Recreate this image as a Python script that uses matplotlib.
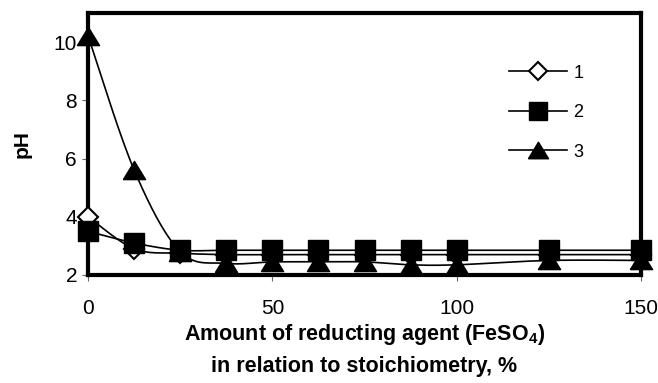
import numpy as np
import matplotlib
matplotlib.use("Agg")
from matplotlib import pyplot as plt
from matplotlib.lines import Line2D

# Data
amount = [0, 12.5, 25, 37.5, 50, 62.5, 75, 87.5, 100, 125, 150]
ph_1 = [4.0, 2.9, 2.75, 2.7, 2.7, 2.7, 2.7, 2.7, 2.7, 2.7, 2.7]
ph_2 = [3.5, 3.1, 2.85, 2.85, 2.85, 2.85, 2.85, 2.85, 2.85, 2.85, 2.85]
ph_3 = [10.2, 5.6, 2.8, 2.4, 2.45, 2.45, 2.45, 2.35, 2.35, 2.5, 2.5]
series_labels = ["1", "2", "3"]

plt.rcParams['font.family'] = ['Liberation Sans', 'DejaVu Sans']

# wide triangle, like the Excel marker
TRI = [(-1.0, -0.82), (1.0, -0.82), (0.0, 0.82), (-1.0, -0.82)]


def smooth(x, y, n=30):
	# Excel-like smoothed line (cubic Bezier, Catmull-Rom control points)
	pts = np.column_stack([np.asarray(x, float), np.asarray(y, float)])
	out = [pts[0]]
	for i in range(len(pts) - 1):
		p0 = pts[i - 1] if i > 0 else pts[i]
		p1 = pts[i]
		p2 = pts[i + 1]
		p3 = pts[i + 2] if i + 2 < len(pts) else pts[i + 1]
		c1 = p1 + (p2 - p0) / 6
		c2 = p2 - (p3 - p1) / 6
		t = np.linspace(0, 1, n)[1:, None]
		seg = (1 - t) ** 3 * p1 + 3 * (1 - t) ** 2 * t * c1 + 3 * (1 - t) * t ** 2 * c2 + t ** 3 * p2
		out.extend(seg)
	out = np.array(out)
	return out[:, 0], out[:, 1]


fig = plt.figure(figsize=(6.58, 3.83), dpi=100)
ax = fig.add_axes([0.134, 0.282, 0.840, 0.684])

styles = [
	dict(marker="D", mfc="white", mec="black", mew=1.5),
	dict(marker="s", mfc="black", mec="black", mew=1),
	dict(marker=TRI, mfc="black", mec="black", mew=1),
]
data_ms = [10, 15, 16]
legend_ms = [9, 13.5, 14.5]

handles = []
for ys, st, ms, lms, lab in zip([ph_1, ph_2, ph_3], styles, data_ms, legend_ms, series_labels):
	sx, sy = smooth(amount, ys)
	ax.plot(sx, sy, color="black", lw=1.2, zorder=2)
	ax.plot(amount, ys, ls="none", ms=ms, zorder=3, clip_on=False, **st)
	handles.append(Line2D([], [], color="black", lw=1.2, ms=lms, label=lab, **st))

ax.set_xlim(0, 150)
ax.set_ylim(2, 11)
ax.set_xticks([0, 50, 100, 150])
ax.set_yticks([2, 4, 6, 8, 10])

for sp in ax.spines.values():
	sp.set_linewidth(3)
ax.tick_params(axis="both", direction="out", length=4, width=0.8, labelsize=15, color="#666666")
ax.tick_params(axis="x", pad=13)
ax.tick_params(axis="y", pad=4)

ax.set_xlabel("Amount of reducting agent (FeSO$_\\mathregular{4}$)\nin relation to stoichiometry, %",
	fontsize=15.5, fontweight="bold", labelpad=3, linespacing=1.55)
ax.set_ylabel("pH", fontsize=15, fontweight="bold", labelpad=16)

ax.legend(handles=handles, loc="upper right", bbox_to_anchor=(0.925, 0.865), frameon=False,
	fontsize=13, handlelength=3.2, handletextpad=0.35, labelspacing=1.25)

plt.savefig("out.png", dpi=100)
